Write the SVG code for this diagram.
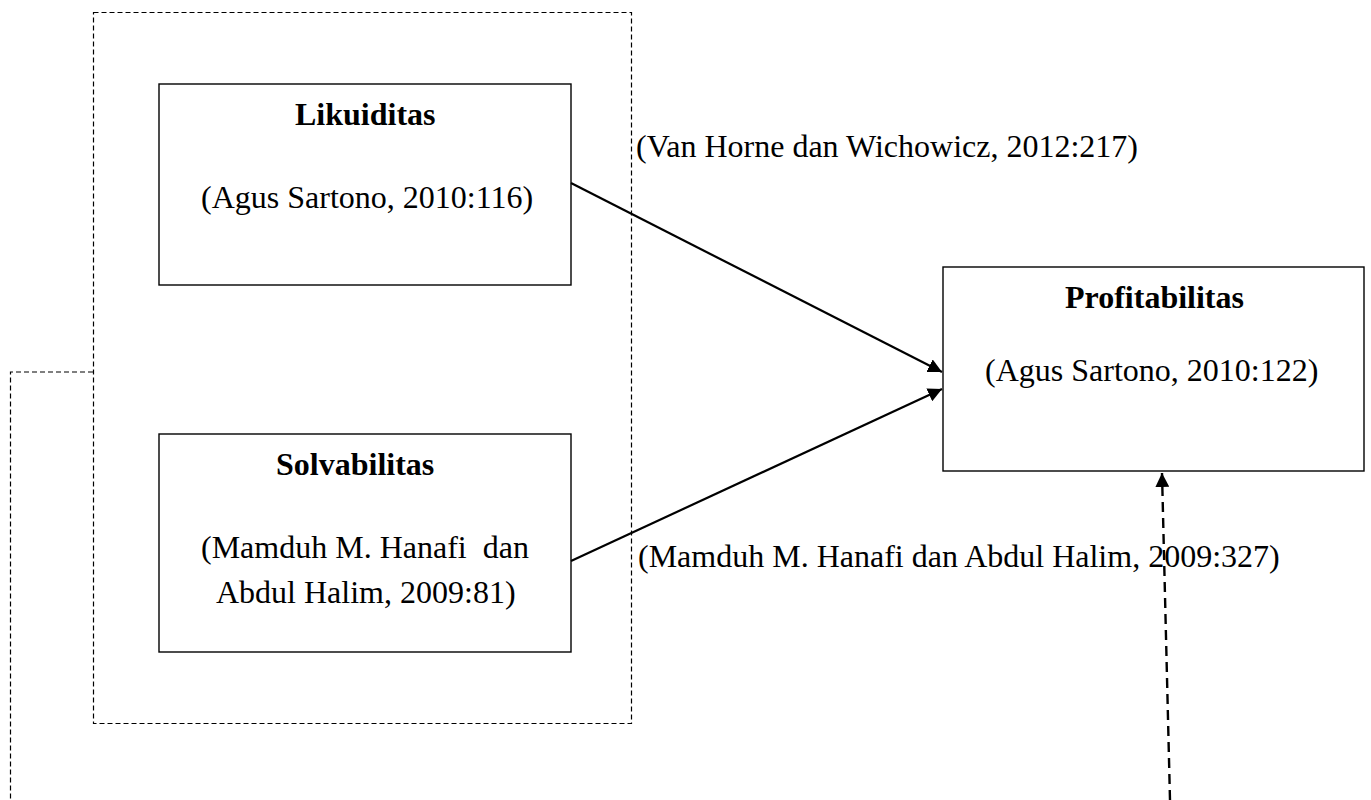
<svg xmlns="http://www.w3.org/2000/svg" width="1371" height="800" viewBox="0 0 1371 800">
<style>
  .box { fill: #fff; stroke: #000; stroke-width: 1.4; }
  .grp { fill: none; stroke: #000; stroke-width: 1.2; stroke-dasharray: 5 3; }
  .t { font-family: "Liberation Serif", "Times New Roman", serif; font-size: 32px; fill: #000; }
  .b { font-weight: bold; }
  .conn { fill: none; stroke: #000; stroke-width: 2.2; }
  .dconn { fill: none; stroke: #000; stroke-width: 2.4; stroke-dasharray: 10 6; }
</style>
<defs>
  <marker id="arr" viewBox="0 0 10 10" refX="10" refY="5" markerWidth="14" markerHeight="14" markerUnits="userSpaceOnUse" orient="auto">
    <path d="M0,0 L10,5 L0,10 Z" fill="#000"/>
  </marker>
</defs>
<rect width="1371" height="800" fill="#fff"/>

<g id="group-box">
  <rect class="grp" x="93.5" y="12.5" width="538" height="711"/>
</g>

<g id="likuiditas">
  <rect class="box" x="159" y="84" width="412" height="201"/>
  <text class="t b" x="295" y="125">Likuiditas</text>
  <text class="t" x="201" y="208">(Agus Sartono, 2010:116)</text>
</g>

<g id="solvabilitas">
  <rect class="box" x="159" y="434" width="412" height="218"/>
  <text class="t b" x="276" y="475">Solvabilitas</text>
  <text class="t" x="201" y="558" xml:space="preserve">(Mamduh M. Hanafi  dan</text>
  <text class="t" x="216" y="603">Abdul Halim, 2009:81)</text>
</g>

<g id="profitabilitas">
  <rect class="box" x="943" y="267" width="421" height="204"/>
  <text class="t b" x="1065" y="308">Profitabilitas</text>
  <text class="t" x="985" y="381">(Agus Sartono, 2010:122)</text>
</g>

<g id="connectors">
  <line class="conn" x1="571" y1="183" x2="942" y2="372" marker-end="url(#arr)"/>
  <line class="conn" x1="571" y1="561" x2="942" y2="389" marker-end="url(#arr)"/>
  <line class="dconn" x1="1170" y1="800" x2="1162" y2="473" marker-end="url(#arr)"/>
  <polyline class="grp" points="93,372 10.5,372 10.5,800"/>
</g>

<g id="labels">
  <text class="t" x="636" y="157">(Van Horne dan Wichowicz, 2012:217)</text>
  <text class="t" x="638" y="567">(Mamduh M. Hanafi dan Abdul Halim, 2009:327)</text>
</g>
</svg>
